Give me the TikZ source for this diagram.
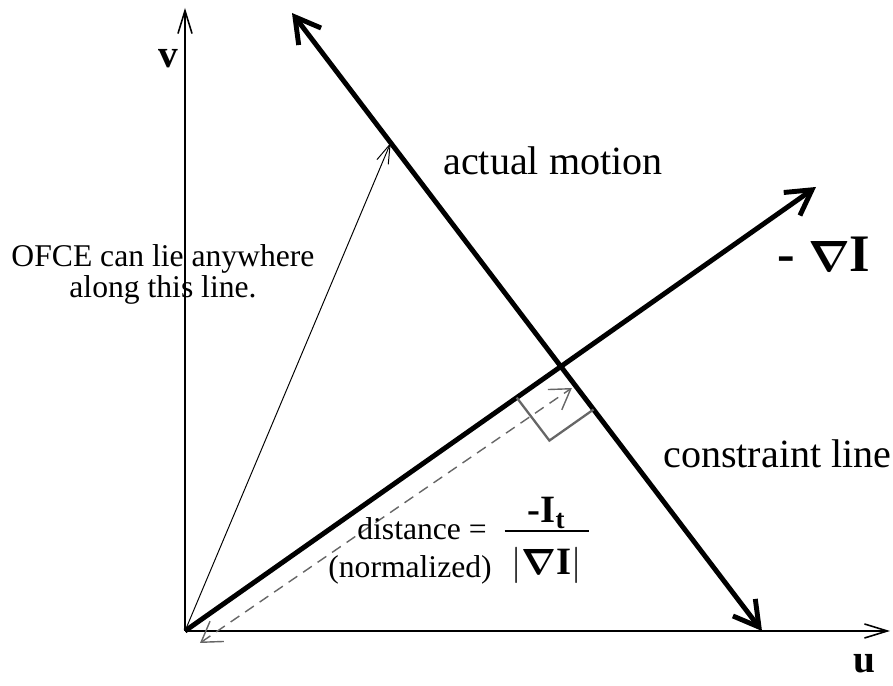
\documentclass[tikz,border=0pt]{standalone}
\usepackage{amsmath,amssymb}
\usepackage{fontspec}
\setmainfont{Liberation Serif}
\usetikzlibrary{arrows.meta,calc,positioning,intersections}
\definecolor{markgray}{HTML}{666666}
\newcommand{\gradI}{{\boldmath$\nabla$}\textbf{I}}

\begin{document}
\begin{tikzpicture}[scale=1.0,
  axistip/.tip={Straight Barb[length=13pt,width=8pt]},
  heavytip/.tip={Straight Barb[length=14pt,width=16pt]},
  dashtip/.tip={Straight Barb[length=11pt,width=14pt]},
  axisline/.style={line width=0.9pt,-axistip},
  heavyline/.style={line width=2.8pt},
  bigtext/.style={font=\fontsize{22.8}{27}\selectfont,inner sep=0pt},
  smalltext/.style={font=\fontsize{18}{16}\selectfont,inner sep=0pt},
  axislabel/.style={font=\fontsize{22.4}{27}\selectfont\bfseries,inner sep=0pt}]
  \useasboundingbox (-3.7,-1.1) rectangle (14.16,12.62);
  \coordinate (O) at (0,0);
  \coordinate (vtip) at (0,12.46);
  \coordinate (utip) at (14.1,0);
  \coordinate (gtip) at (12.62,8.88);
  \coordinate (ctop) at (2.14,12.36);
  \coordinate (cbot) at (11.54,0);
  % axes
  \draw[axisline] (O) -- (utip);
  \draw[axisline] (O) -- (vtip);
  \node[axislabel] (vlab) at (-0.34,11.44) {v};
  \node[axislabel] (ulab) at (13.58,-0.66) {u};
  % gradient direction and constraint line
  \draw[heavyline,-heavytip,name path=grad] (O) -- (gtip);
  \draw[heavyline,heavytip-heavytip,name path=cons] (ctop) -- (cbot);
  \path[name intersections={of=grad and cons,by=X}];
  % right angle mark
  \coordinate (sqA) at ($(X)!1.08cm!(O)$);
  \coordinate (sqC) at ($(X)!1.08cm!(cbot)$);
  \coordinate (sqD) at ($(sqA)+(sqC)-(X)$);
  \draw[markgray,line width=1.3pt] (sqA) -- (sqD) -- (sqC);
  % normal distance
  \coordinate (dlow) at ($(O)+(0.30,-0.24)$);
  \coordinate (dhigh) at ($(X)+(0.22,-0.43)$);
  \draw[markgray,line width=0.8pt,dash pattern=on 6pt off 4pt,dashtip-dashtip] (dlow) -- (dhigh);
  % one possible flow vector
  \coordinate (P) at ($(ctop)!0.21!(cbot)$);
  \draw[line width=0.55pt,-{Straight Barb[length=11pt,width=7pt]}] (O) -- (P);
  % labels
  \node[bigtext,anchor=base west] (motion) at (5.16,9.12) {actual motion};
  \node[bigtext,anchor=base west] (conslab) at (9.56,3.26) {constraint line};
  \node[font=\fontsize{30}{36}\selectfont\bfseries,inner sep=0pt,anchor=base west] (gradlab) at (11.84,7.18) {-\ \gradI};
  \node[smalltext,align=center] (ofce) at (-0.44,7.13) {OFCE can lie anywhere\\along this line.};
  \node[smalltext,anchor=base west] (dist) at (3.44,1.82) {distance =};
  \node[smalltext,anchor=base west] (norm) at (2.86,1.06) {(normalized)};
  \node[font=\fontsize{22}{26}\selectfont,inner sep=0pt,anchor=base west] (frac) at ($(dist.base east)+(0.30,0)$)
    {$\frac{\mbox{\bfseries -I\textsubscript{t}}}{\mbox{\hspace{4pt}\rule{0pt}{23.5pt}$|\boldsymbol{\nabla}$\bfseries I$|$\hspace{4pt}}}$};
\end{tikzpicture}
\end{document}
